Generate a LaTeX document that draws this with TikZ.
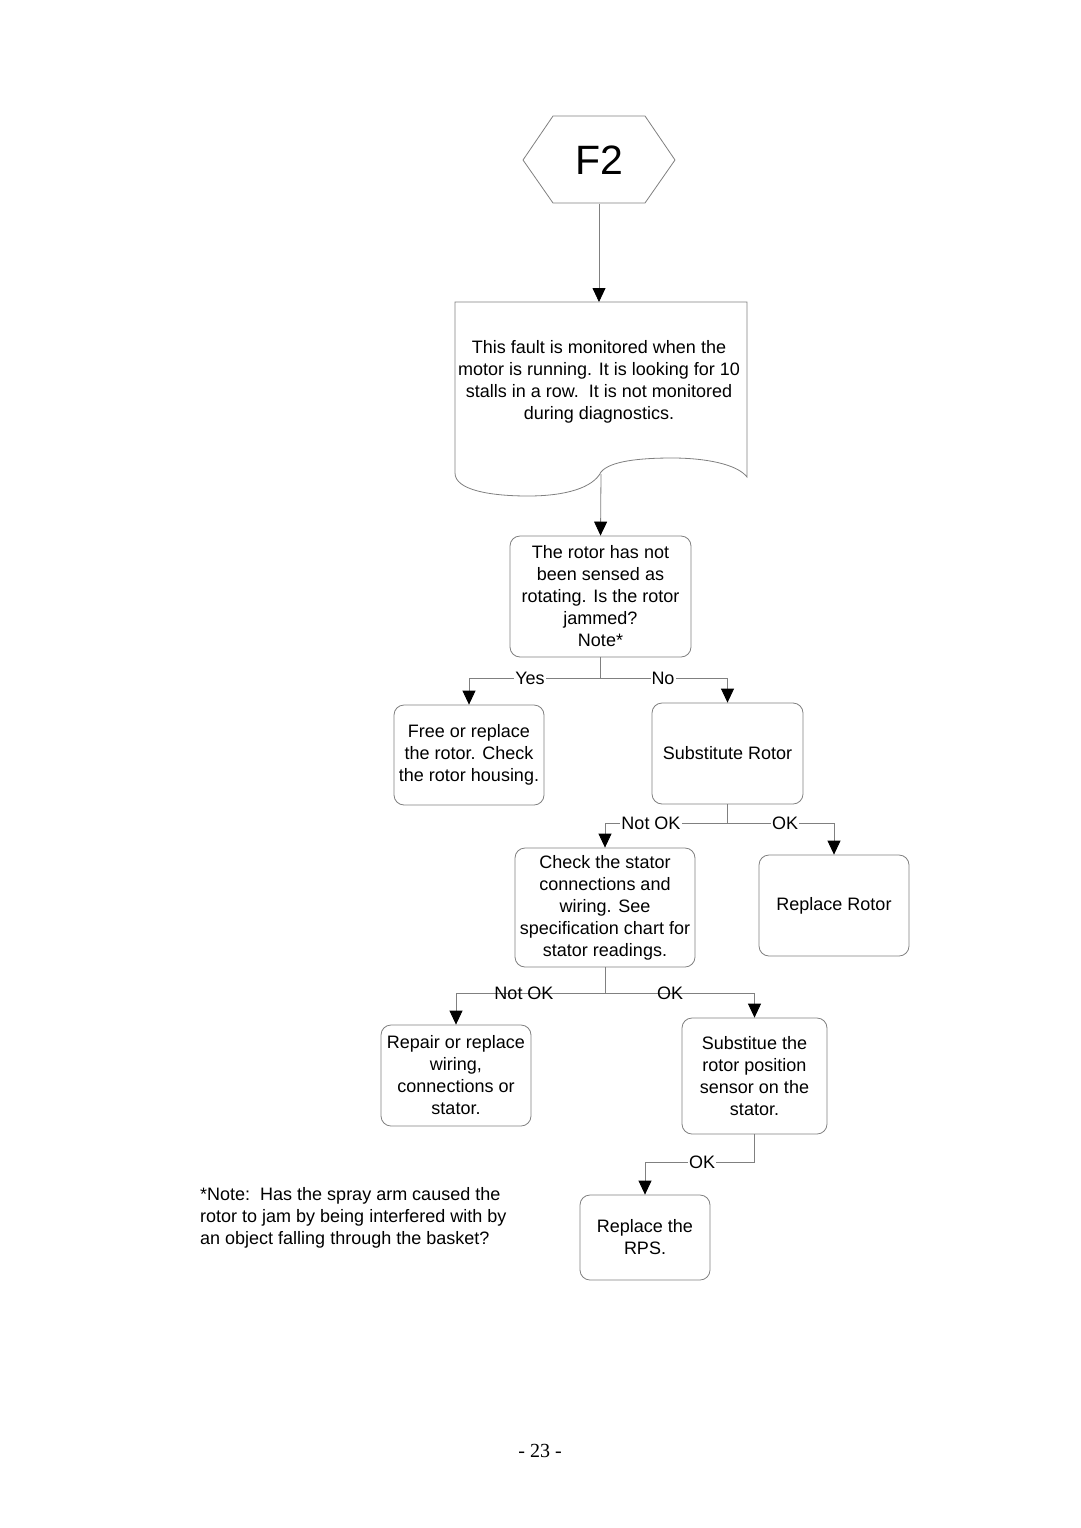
\documentclass[tikz,border=0pt]{standalone}
\usepackage{fontspec}
\setmainfont{Liberation Sans}
\newfontfamily\pgnumfont{Liberation Serif}
\usetikzlibrary{arrows.meta}
\definecolor{linegray}{RGB}{128,128,128}
\tikzset{
  box/.style={draw=linegray, line width=0.8pt, rounded corners=10pt, align=center,
    font=\fontsize{18}{22}\selectfont, inner sep=0pt},
  ln/.style={draw=linegray, line width=0.8pt},
  arr/.style={draw=linegray, line width=0.8pt, -{Triangle[width=13pt,length=14pt,color=black,fill=black]}},
  lbl/.style={font=\fontsize{18}{22}\selectfont, inner sep=1pt},
  lblw/.style={lbl, fill=white},
}
\begin{document}
\begin{tikzpicture}[x=1pt,y=-1pt]
\useasboundingbox (0,0) rectangle (1080,1528);
\fill[white] (0,0) rectangle (1080,1528);

% start hexagon
\node[minimum width=152pt, minimum height=87pt, inner sep=0pt, font=\fontsize{41}{45}\selectfont] (hex) at (599,160) {F2};
\draw[ln] (523,160) -- (553,116) -- (645,116) -- (675,160) -- (645,203) -- (553,203) -- cycle;

% document shape
\draw[ln] (455,473) -- (455,302) -- (747,302) -- (747,477)
  .. controls (737,464) and (705,458) .. (672,458)
  .. controls (640,458) and (610,461) .. (601,472)
  .. controls (593,488) and (565,496) .. (528,496)
  .. controls (490,496) and (455,490) .. (455,473) -- cycle;
\node[align=center, font=\fontsize{18}{22}\selectfont, inner sep=0pt] (doc) at (599,382)
  {This fault is monitored when the\\motor is running. It is looking for 10\\stalls in a row.\ \ It is not monitored\\during diagnostics.};
\coordinate (docT) at (599,302);
\coordinate (docB) at (601,474);

% boxes
\node[box, minimum width=181pt, minimum height=121pt] (q1) at (600.5,596.5)
  {The rotor has not\\been sensed as\\rotating. Is the rotor\\jammed?\\Note*};
\node[box, minimum width=150pt, minimum height=100pt] (free) at (469,755)
  {Free or replace\\the rotor. Check\\the rotor housing.};
\node[box, minimum width=151pt, minimum height=101pt] (sub) at (727.5,753.5)
  {Substitute Rotor};
\node[box, minimum width=180pt, minimum height=119pt] (chk) at (605,907.5)
  {Check the stator\\connections and\\wiring. See\\specification chart for\\stator readings.};
\node[box, minimum width=150pt, minimum height=101pt] (rr) at (834,905.5)
  {Replace Rotor};
\node[box, minimum width=150pt, minimum height=101pt] (rep) at (456,1075.5)
  {Repair or replace\\wiring,\\connections or\\stator.};
\node[box, minimum width=145pt, minimum height=116pt] (rps) at (754.5,1076)
  {Substitue the\\rotor position\\sensor on the\\stator.};
\node[box, minimum width=130pt, minimum height=85pt] (newrps) at (645,1237.5)
  {Replace the\\RPS.};

% note and page number
\node[anchor=west, align=left, font=\fontsize{18}{22}\selectfont, inner sep=0pt] (note) at (200,1218)
  {*Note:\ \ Has the spray arm caused the\\rotor to jam by being interfered with by\\an object falling through the basket?};
\node[font=\pgnumfont\fontsize{20}{24}\selectfont, inner sep=0pt] (pg) at (540,1451) {- 23 -};

% connectors
\draw[arr] (hex.south) -- (docT);
\draw[arr] (docB) -- (q1.north);

\draw[ln] (q1.south) -- ++(0,21) coordinate (j1);
\draw[arr] (j1) -| (free.north);
\draw[arr] (j1) -| (sub.north);
\node[lblw] (yes) at (530,678) {Yes};
\node[lblw] (no) at (663,678) {No};

\draw[ln] (sub.south) -- ++(0,19) coordinate (j2);
\draw[arr] (j2) -| (chk.north);
\draw[arr] (j2) -| (rr.north);
\node[lblw] (nok1) at (651,823) {Not OK};
\node[lblw] (ok1) at (785,823) {OK};

\draw[ln] (chk.south) -- ++(0,26) coordinate (j3);
\draw[arr] (j3) -| (rep.north);
\draw[arr] (j3) -| (rps.north);
\node[lbl] (nok2) at (524,993) {Not OK};
\node[lbl] (ok2) at (670,993) {OK};

\draw[ln] (rps.south) -- ++(0,28) coordinate (j4);
\draw[arr] (j4) -| (newrps.north);
\node[lblw] (ok3) at (702,1162) {OK};
\end{tikzpicture}
\end{document}
